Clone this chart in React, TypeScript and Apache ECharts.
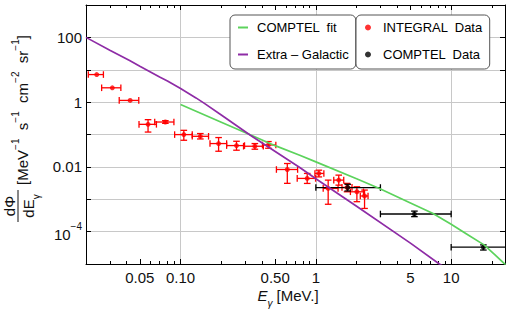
import React, { useEffect, useRef } from "react";
import * as echarts from "echarts";

// ---------- axis ranges & ticks ----------
const X_MIN = 0.02;
const X_MAX = 25;
const Y_MIN = 1e-5;
const Y_MAX = 1e3;

const xLabelValues = [0.05, 0.1, 0.5, 1, 5, 10];
const xLabelTexts = ["0.05", "0.10", "0.50", "1", "5", "10"];
const xMajorTicks = [0.05, 0.1, 0.5, 1, 5, 10];
const xMinorTicks = [0.03, 0.04, 0.06, 0.07, 0.08, 0.09, 0.2, 0.3, 0.4, 0.6, 0.7, 0.8, 0.9, 2, 3, 4, 6, 7, 8, 9, 20];
const xGridValues = [0.1, 1, 10];

const yTickValues = [1e-5, 1e-4, 1e-3, 1e-2, 1e-1, 1, 10, 100, 1000];
const yLabelValues = [1e-4, 0.01, 1, 100];
const yLabelTexts = ["{b|10}{s|\u22124}", "0.01", "1", "100"];

// ---------- curves ----------
const compFitE = [0.1, 0.2, 0.34, 0.5, 0.76, 1, 2, 2.95, 5, 7.29, 10, 13, 17.5, 21, 25.2];
const compFitFlux = [0.841, 0.238, 0.0912, 0.0452, 0.0229, 0.01426, 0.00427, 0.00216, 7.7e-4, 3.68e-4, 1.69e-4, 8.5e-5, 3.9e-5, 1.94e-5, 9.5e-6];

const extraGalE = [0.02, 0.03, 0.042, 0.05, 0.07, 0.08, 0.1, 0.13, 0.15, 0.2, 0.33, 0.76, 1, 2, 5, 8.18, 10];
const extraGalFlux = [100, 40, 19.2, 12.8, 5.95, 4.5, 2.63, 1.35, 0.916, 0.4, 0.0933, 0.00955, 0.0043, 6.05e-4, 4.4e-5, 1.0e-5, 6.2e-6];

// ---------- INTEGRAL data ----------
const integralE = [0.024, 0.0313, 0.0424, 0.0575, 0.0772, 0.1057, 0.14, 0.191, 0.259, 0.354, 0.446, 0.615, 0.863, 1.052, 1.233, 1.476, 1.7, 2.01, 2.29];
const integralFlux = [7.1, 2.77, 1.13, 0.206, 0.243, 0.0993, 0.088, 0.0525, 0.0455, 0.0434, 0.0475, 0.0083, 0.0044, 0.00627, 0.00216, 0.0039, 0.00232, 0.0017, 0.00126];
const integralELo = [0.0208, 0.0261, 0.0352, 0.0493, 0.0644, 0.0904, 0.122, 0.165, 0.219, 0.292, 0.403, 0.511, 0.728, 0.984, 1.133, 1.356, 1.56, 1.8, 2.13];
const integralEHi = [0.0269, 0.0362, 0.0491, 0.0663, 0.0893, 0.122, 0.161, 0.219, 0.297, 0.409, 0.506, 0.733, 0.995, 1.146, 1.459, 1.607, 1.85, 2.25, 2.43];
const integralFLo = [7.1, 2.77, 1.13, 0.119, 0.221, 0.0664, 0.0728, 0.0304, 0.0327, 0.0351, 0.0376, 0.0031, 0.00308, 0.0049, 0.0007, 0.00273, 0.0017, 0.00084, 0.00052];
const integralFHi = [7.1, 2.77, 1.13, 0.287, 0.268, 0.1346, 0.107, 0.0804, 0.0618, 0.0525, 0.0605, 0.0127, 0.00627, 0.0079, 0.0039, 0.00556, 0.0031, 0.00243, 0.00192];

// ---------- COMPTEL data ----------
const comptelE = [1.72, 5.35, 17.3];
const comptelFlux = [0.0023, 3.5e-4, 3.3e-5];
const comptelELo = [1.0, 3.0, 10];
const comptelEHi = [3.0, 10, 30];
const comptelFLo = [0.0018, 2.9e-4, 2.7e-5];
const comptelFHi = [0.0029, 4.3e-4, 3.9e-5];

// ---------- style ----------
const FONT = "'Liberation Sans', Arial, sans-serif";
const GREEN = "#5cd35c";
const PURPLE = "#8e2ca6";
const RED = "#ff0000";
const BLACK = "#000000";
const GRID = "#c8c8c8";
const TEXT = "#111111";

const nearest = (vals: number[], texts: string[]) => (v: number) => {
  let best = 0;
  let bd = Infinity;
  for (let i = 0; i < vals.length; i++) {
    const d = Math.abs(Math.log10(v) - Math.log10(vals[i]));
    if (d < bd) { bd = d; best = i; }
  }
  return bd < 0.01 ? texts[best] : "";
};

const errData = (E: number[], F: number[], el: number[], eh: number[], fl: number[], fh: number[]) =>
  E.map((e, i) => [e, F[i], el[i], eh[i], fl[i], fh[i]]);

const errRender = (color: string) => (params: any, api: any) => {
  const x = api.value(0), y = api.value(1);
  const xl = api.value(2), xh = api.value(3), yl = api.value(4), yh = api.value(5);
  const pL = api.coord([xl, y]);
  const pR = api.coord([xh, y]);
  const pB = api.coord([x, yl]);
  const pT = api.coord([x, yh]);
  const cap = 3.3;
  const style = { stroke: color, lineWidth: 1.3 };
  const children: any[] = [
    { type: "line", shape: { x1: pL[0], y1: pL[1], x2: pR[0], y2: pR[1] }, style },
    { type: "line", shape: { x1: pL[0], y1: pL[1] - cap, x2: pL[0], y2: pL[1] + cap }, style },
    { type: "line", shape: { x1: pR[0], y1: pR[1] - cap, x2: pR[0], y2: pR[1] + cap }, style },
  ];
  if (Math.abs(pB[1] - pT[1]) > 1) {
    children.push(
      { type: "line", shape: { x1: pB[0], y1: pB[1], x2: pT[0], y2: pT[1] }, style },
      { type: "line", shape: { x1: pB[0] - cap, y1: pB[1], x2: pB[0] + cap, y2: pB[1] }, style },
      { type: "line", shape: { x1: pT[0] - cap, y1: pT[1], x2: pT[0] + cap, y2: pT[1] }, style }
    );
  }
  return { type: "group", children };
};

const xBase = { type: "log", logBase: 10, min: X_MIN, max: X_MAX };
const yBase = { type: "log", logBase: 10, min: Y_MIN, max: Y_MAX };
const axLine = { show: true, lineStyle: { color: BLACK, width: 1 } };
const noLine = { show: false };

const supRich = {
  n: { fontSize: 15, fontFamily: FONT, color: TEXT, lineHeight: 20, verticalAlign: "bottom" },
  s: { fontSize: 10, fontFamily: FONT, color: TEXT, lineHeight: 10, verticalAlign: "top" },
};

function buildOption(): any {
  return {
    animation: false,
    backgroundColor: "#ffffff",
    grid: { left: 86, right: 6, top: 5, bottom: 49 },
    xAxis: [
      {
        ...xBase, position: "bottom", axisLine: axLine,
        axisTick: { show: true, inside: true, length: 5, customValues: xMajorTicks, lineStyle: { color: BLACK } },
        axisLabel: { customValues: xLabelValues, formatter: nearest(xLabelValues, xLabelTexts), margin: 6, fontSize: 15, fontFamily: FONT, color: TEXT },
        splitLine: { show: false },
      },
      {
        ...xBase, position: "bottom", axisLine: noLine,
        axisTick: { show: true, inside: true, length: 3, customValues: xMinorTicks, lineStyle: { color: BLACK } },
        axisLabel: { show: false }, splitLine: { show: false },
      },
      {
        ...xBase, position: "top", axisLine: axLine,
        axisTick: { show: true, inside: true, length: 5, customValues: xMajorTicks, lineStyle: { color: BLACK } },
        axisLabel: { show: false }, splitLine: { show: false },
      },
      {
        ...xBase, position: "top", axisLine: noLine,
        axisTick: { show: true, inside: true, length: 3, customValues: xMinorTicks, lineStyle: { color: BLACK } },
        axisLabel: { show: false }, splitLine: { show: false },
      },
      {
        ...xBase, position: "bottom", axisLine: noLine,
        axisTick: { show: false, customValues: xGridValues },
        axisLabel: { show: false },
        splitLine: { show: true, lineStyle: { color: GRID, width: 1 } },
      },
    ],
    yAxis: [
      {
        ...yBase, position: "left", axisLine: axLine,
        axisTick: { show: true, inside: true, length: 5, customValues: yTickValues, lineStyle: { color: BLACK } },
        axisLabel: {
          customValues: yLabelValues, formatter: nearest(yLabelValues, yLabelTexts), margin: 4,
          fontSize: 15, fontFamily: FONT, color: TEXT,
          rich: { b: supRich.n, s: supRich.s },
        },
        splitLine: { show: true, lineStyle: { color: GRID, width: 1 } },
      },
      {
        ...yBase, position: "right", axisLine: axLine,
        axisTick: { show: true, inside: true, length: 5, customValues: yTickValues, lineStyle: { color: BLACK } },
        axisLabel: { show: false }, splitLine: { show: false },
      },
    ],
    legend: [
      {
        left: 230, top: 15, orient: "vertical", selectedMode: false,
        backgroundColor: "#fff", borderColor: "#555", borderWidth: 1, borderRadius: 5,
        padding: [6, 7, 8, 8], itemGap: 14, itemWidth: 10, itemHeight: 2,
        textStyle: { fontSize: 13, fontFamily: FONT, color: BLACK, padding: [0, 0, 0, 4] },
        data: [
          { name: "COMPTEL  fit", icon: "rect" },
          { name: "Extra \u2013 Galactic", icon: "rect" },
        ],
      },
      {
        left: 356, top: 15, orient: "vertical", selectedMode: false,
        backgroundColor: "#fff", borderColor: "#555", borderWidth: 1, borderRadius: 5,
        padding: [6, 7, 8, 9], itemGap: 14, itemWidth: 6, itemHeight: 6,
        textStyle: { fontSize: 13, fontFamily: FONT, color: BLACK, padding: [0, 0, 0, 7] },
        data: [
          { name: "INTEGRAL  Data", icon: "circle" },
          { name: "COMPTEL  Data", icon: "circle" },
        ],
      },
    ],
    series: [
      {
        name: "COMPTEL  fit", type: "line", xAxisIndex: 0, yAxisIndex: 0,
        data: compFitE.map((e, i) => [e, compFitFlux[i]]),
        symbol: "none", smooth: false, clip: true,
        lineStyle: { color: GREEN, width: 1.7 }, itemStyle: { color: GREEN },
      },
      {
        name: "Extra \u2013 Galactic", type: "line", xAxisIndex: 0, yAxisIndex: 0,
        data: extraGalE.map((e, i) => [e, extraGalFlux[i]]),
        symbol: "none", smooth: false, clip: true,
        lineStyle: { color: PURPLE, width: 1.7 }, itemStyle: { color: PURPLE },
      },
      {
        name: "INTEGRAL err", type: "custom", xAxisIndex: 0, yAxisIndex: 0, clip: true,
        data: errData(integralE, integralFlux, integralELo, integralEHi, integralFLo, integralFHi),
        encode: { x: 0, y: 1 }, renderItem: errRender(RED),
      },
      {
        name: "COMPTEL err", type: "custom", xAxisIndex: 0, yAxisIndex: 0, clip: true,
        data: errData(comptelE, comptelFlux, comptelELo, comptelEHi, comptelFLo, comptelFHi),
        encode: { x: 0, y: 1 }, renderItem: errRender(BLACK),
      },
      {
        name: "INTEGRAL  Data", type: "scatter", xAxisIndex: 0, yAxisIndex: 0,
        data: integralE.map((e, i) => [e, integralFlux[i]]),
        symbol: "circle", symbolSize: 5, itemStyle: { color: RED },
      },
      {
        name: "COMPTEL  Data", type: "scatter", xAxisIndex: 0, yAxisIndex: 0,
        data: comptelE.map((e, i) => [e, comptelFlux[i]]),
        symbol: "circle", symbolSize: 5, itemStyle: { color: BLACK },
      },
    ],
    graphic: [
      {
        type: "text", x: 20, y: 110, rotation: Math.PI / 2,
        style: {
          text: "{n|[MeV}{s|\u22121}{n|  s}{s|\u22121}{n|  cm}{s|\u22122}{n|  sr}{s|\u22121}{n|]}",
          rich: supRich, align: "center", verticalAlign: "middle", fill: TEXT,
        },
      },
      {
        type: "text", x: 9, y: 206, rotation: Math.PI / 2,
        style: { text: "d\u03A6", font: `15px ${FONT}`, fill: TEXT, align: "center", verticalAlign: "middle" },
      },
      {
        type: "line", shape: { x1: 18, y1: 190, x2: 18, y2: 222 },
        style: { stroke: TEXT, lineWidth: 1 },
      },
      {
        type: "text", x: 31, y: 206, rotation: Math.PI / 2,
        style: {
          text: "{n|dE}{g|\u03B3}",
          rich: {
            n: { fontSize: 15, fontFamily: FONT, color: TEXT, lineHeight: 20, verticalAlign: "top" },
            g: { fontSize: 10, fontFamily: FONT, color: TEXT, lineHeight: 10, verticalAlign: "bottom" },
          },
          align: "center", verticalAlign: "middle", fill: TEXT,
        },
      },
      {
        type: "text", x: 288, y: 298,
        style: {
          text: "{e|E}{g|\u03B3}{n| [MeV.]}",
          rich: {
            e: { fontSize: 15, fontFamily: FONT, fontStyle: "italic", color: TEXT, lineHeight: 20, verticalAlign: "top" },
            g: { fontSize: 10, fontFamily: FONT, fontStyle: "italic", color: TEXT, lineHeight: 10, verticalAlign: "bottom" },
            n: { fontSize: 15, fontFamily: FONT, color: TEXT, lineHeight: 20, verticalAlign: "top" },
          },
          align: "center", verticalAlign: "middle", fill: TEXT,
        },
      },
    ],
  };
}

export default function App() {
  const ref = useRef<HTMLDivElement>(null);
  useEffect(() => {
    if (!ref.current) return;
    const chart = echarts.init(ref.current, null, { renderer: "svg" });
    chart.setOption(buildOption());
    return () => chart.dispose();
  }, []);
  return (
    <div
      ref={ref}
      style={{ position: "fixed", left: 0, top: 0, width: 511, height: 313, background: "#fff" }}
    />
  );
}
